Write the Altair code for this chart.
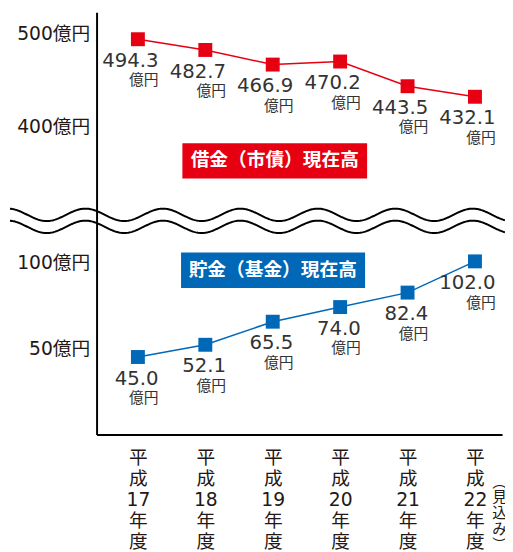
import altair as alt
import pandas as pd

# ---- data ----
years = [17, 18, 19, 20, 21, 22]
debt = [494.3, 482.7, 466.9, 470.2, 443.5, 432.1]      # 借金（市債）現在高
savings = [45.0, 52.1, 65.5, 74.0, 82.4, 102.0]        # 貯金（基金）現在高
y_ticks = [50, 100, 400, 500]
unit = "億円"
series_names = ["debt", "savings"]
series_colors = ["#e60012", "#0068b7"]
box_titles = ["借金（市債）現在高", "貯金（基金）現在高"]
note = "︵\n見\n込\nみ\n︶"

# annotation anchors (data coordinates)
box_x = [17.66, 17.64]
box_x2 = [20.40, 20.37]
box_y = [363.0, 121.7]
box_y2 = [284.8, 85.1]
box_tx = [19.03, 19.0]
box_ty = [326.0, 95.4]

NUM_FONT = "DejaVu Sans, Noto Sans CJK JP"
JP_FONT = "Noto Sans CJK JP"

df = pd.DataFrame({
    "year": years * 2,
    "value": debt + savings,
    "series": [series_names[0]] * len(years) + [series_names[1]] * len(years),
})
df["label"] = df["value"].map(lambda v: f"{v:.1f}")
df["unit"] = unit

boxes = pd.DataFrame({
    "series": series_names, "bx": box_x, "bx2": box_x2, "by": box_y, "by2": box_y2,
    "tx": box_tx, "ty": box_ty, "title": box_titles,
})

xscale = alt.Scale(domain=[16.387, 22.4016], nice=False, zero=False)
yscale = alt.Scale(domain=[0, 100, 400, 523.4], range=[429, 254, 116, 0], nice=False, zero=False)
color = alt.Color("series:N", scale=alt.Scale(domain=series_names, range=series_colors), legend=None)

xaxis = alt.Axis(values=years, labelExpr="['平','成',''+datum.value,'年','度']",
                 labelFont=NUM_FONT, labelFontSize=19, labelLineHeight=21.5,
                 labelBaseline="top", labelPadding=14, labelAngle=0, ticks=False,
                 grid=False, domainColor="#000", domainWidth=2, labelColor="#231815",
                 labelFlush=False, labelOverlap=False)
yaxis = alt.Axis(values=y_ticks, labelExpr="datum.value + '億円'",
                 labelFont=NUM_FONT, labelFontSize=19, labelPadding=7, ticks=False,
                 grid=False, domainColor="#000", domainWidth=2, labelColor="#231815",
                 labelFlush=False, labelOverlap=False)


def X(field):
    return alt.X(field, scale=xscale, axis=xaxis, title=None)


def Y(field):
    return alt.Y(field, scale=yscale, axis=yaxis, title=None)


base = alt.Chart(df)

lines = base.mark_line(strokeWidth=1.5).encode(
    x=X("year:Q"), y=Y("value:Q"), color=color, detail="series:N",
)

points = base.mark_point(shape="square", filled=True, size=200, opacity=1).encode(
    x=X("year:Q"), y=Y("value:Q"), color=color,
)

nums = base.mark_text(align="right", baseline="middle", dx=21, dy=22, fontSize=20,
                      font=NUM_FONT, color="#333").encode(
    x=X("year:Q"), y=Y("value:Q"), text="label:N",
)

units = base.mark_text(align="right", baseline="middle", dx=21, dy=42, fontSize=15,
                       font=JP_FONT, color="#333").encode(
    x=X("year:Q"), y=Y("value:Q"), text="unit:N",
)

rects = alt.Chart(boxes).mark_rect().encode(
    x=X("bx:Q"), x2="bx2:Q", y=Y("by:Q"), y2="by2:Q", color=color,
)

rect_text = alt.Chart(boxes).mark_text(font=JP_FONT, fontWeight="bold", fontSize=19,
                                       color="white", baseline="middle").encode(
    x=X("tx:Q"), y=Y("ty:Q"), text="title:N",
)

# broken-axis wave marks (decoration)
waves = alt.Chart(alt.sequence(0, 504, 1, as_="p")).transform_calculate(
    yr="15.102 + datum.p / 68.5",
    w1="204.8 + 13.7 * cos(2 * PI * (datum.yr - 15.073) / 1.149)",
    w2="178.3 + 13.7 * cos(2 * PI * (datum.yr - 15.073) / 1.149)",
).transform_fold(["w1", "w2"], as_=["wave", "wv"]).mark_line(
    color="#000", strokeWidth=2).encode(
    x=X("yr:Q"), y=Y("wv:Q"), detail="wave:N", order="p:Q",
)

note_text = alt.Chart(pd.DataFrame({"t": [note]})).mark_text(
    font=JP_FONT, fontSize=15, lineBreak="\n", lineHeight=16, align="center",
    baseline="top", dx=25, color="#231815").encode(
    x=alt.datum(22, scale=xscale, axis=xaxis, title=None),
    y=alt.value(470),
    text="t:N",
)

chart = alt.layer(lines, waves, points, nums, units, rects, rect_text, note_text).properties(
    width=412, height=429,
    autosize=alt.AutoSizeParams(type="none"),
    padding={"left": 90, "top": 0, "right": 3, "bottom": 115},
).configure_view(stroke=None)

chart.save("out.html", embed_options={"renderer": "svg", "actions": False})
